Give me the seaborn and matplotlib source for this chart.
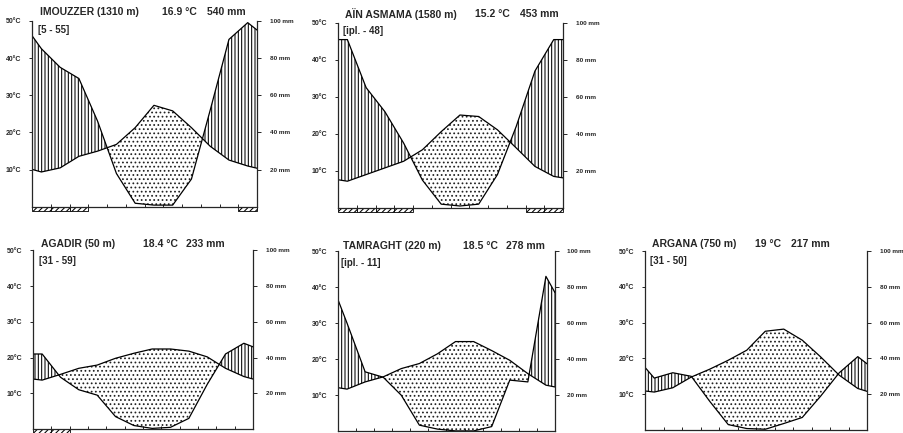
import numpy as np
import pandas as pd
import matplotlib.pyplot as plt
import seaborn as sns

sns.set_style("ticks")
plt.rcParams['font.family'] = ['Liberation Sans', 'DejaVu Sans']
plt.rcParams['hatch.linewidth'] = 0.75

stations = ["IMOUZZER (1310 m)", "AÏN ASMAMA (1580 m)", "AGADIR (50 m)",
            "TAMRAGHT (220 m)", "ARGANA (750 m)"]
periods = ["[5 - 55]", "[ipl. - 48]", "[31 - 59]", "[ipl. - 11]", "[31 - 50]"]
mean_temp = ["16.9 °C", "15.2 °C", "18.4 °C", "18.5 °C", "19 °C"]
total_rain = ["540 mm", "453 mm", "233 mm", "278 mm", "217 mm"]

# values Jan..Dec, plus the value read on the left and right frame (first / last)
temp_imouzzer = [10.1, 9.4, 10.5, 13.6, 15.0, 16.8, 21.3, 27.3, 25.8, 21.3, 16.3, 12.6, 11.0, 10.4]
rain_imouzzer = [92, 85, 75, 69, 46, 18, 2, 1, 1, 15, 52, 90, 99, 95]
temp_asmama = [7.6, 7.2, 9.0, 10.8, 12.6, 15.7, 20.6, 25.1, 24.7, 21.1, 16.2, 11.2, 8.5, 8.1]
rain_asmama = [91, 91, 65, 52, 35, 15, 2, 1, 2, 18, 44, 74, 91, 91]
temp_agadir = [14.0, 13.7, 15.3, 17.0, 17.9, 19.8, 21.2, 22.4, 22.4, 21.8, 20.2, 17.0, 14.7, 14.0]
rain_agadir = [42, 42, 29, 22, 19, 7, 2, 0.4, 1, 6, 25, 42, 48, 46]
temp_tamraght = [12.1, 11.7, 13.7, 15.1, 17.4, 18.8, 21.5, 24.9, 24.9, 22.4, 19.7, 16.0, 12.8, 12.3]
rain_tamraght = [73, 60, 33, 30, 20, 3.4, 1.2, 0.2, 0.2, 2.6, 28.4, 27.4, 86, 77]
temp_argana = [10.9, 10.6, 11.8, 14.8, 17.0, 19.5, 22.3, 27.6, 28.2, 25.1, 20.4, 15.3, 11.6, 10.8]
rain_argana = [35, 29, 32, 30, 16, 3, 0.8, 0.4, 3.6, 7, 19, 32, 41, 37]

# months with frost risk (bar under the axis)
frost_imouzzer = [1, 2, 3, 12]
frost_asmama = [1, 2, 3, 4, 11, 12]
frost_agadir = [1, 2]
frost_tamraght = []
frost_argana = []

temps = [temp_imouzzer, temp_asmama, temp_agadir, temp_tamraght, temp_argana]
rains = [rain_imouzzer, rain_asmama, rain_agadir, rain_tamraght, rain_argana]
frosts = [frost_imouzzer, frost_asmama, frost_agadir, frost_tamraght, frost_argana]

# axes boxes (left, bottom, width, height)
boxes = [[0.0354, 0.522, 0.249, 0.430],
         [0.3739, 0.520, 0.249, 0.427],
         [0.0365, 0.009, 0.2434, 0.413],
         [0.3739, 0.004, 0.2400, 0.416],
         [0.7135, 0.007, 0.2456, 0.413]]
# title x, title y, mean temp x (left), rain x (right end)
title_pos = [(0.036, 1.045, 0.578, 0.947),
             (0.031, 1.049, 0.609, 0.978),
             (0.036, 1.034, 0.50, 0.873),
             (0.023, 1.028, 0.576, 0.954),
             (0.032, 1.039, 0.495, 0.833)]

x = np.concatenate([[0], np.arange(12) + 0.5, [12]])

fig = plt.figure(figsize=(9.04, 4.33), dpi=100)

for i in range(5):
    ax = fig.add_axes(boxes[i])
    t = np.array(temps[i], dtype=float)
    p = np.array(rains[i], dtype=float) / 2.0
    df = pd.DataFrame({'x': x, 'T': t, 'P': p})

    ax.fill_between(x, t, p, where=p >= t, interpolate=True, facecolor='none',
                    edgecolor='black', hatch='|||||', linewidth=0)
    ax.fill_between(x, t, p, where=t >= p, interpolate=True, facecolor='none',
                    edgecolor='#222222', hatch='....', linewidth=0)
    sns.lineplot(data=df, x='x', y='T', ax=ax, color='black', lw=0.9)
    sns.lineplot(data=df, x='x', y='P', ax=ax, color='black', lw=0.9)

    if frosts[i]:
        fm = np.array(frosts[i]) - 0.5
        ax.bar(fm, -1.1, width=1.0, bottom=0, facecolor='white', edgecolor='black',
               hatch='//////', linewidth=0.6, clip_on=False)

    ax.set_xlim(0, 12)
    ax.set_ylim(0, 50)
    ax.set_xlabel(None)
    ax.set_ylabel(None)
    ax.set_xticks(np.arange(1, 12))
    ax.set_xticklabels([])
    ax.tick_params(axis='x', direction='in', length=2, width=0.7)
    ax.set_yticks([10, 20, 30, 40, 50])
    ax.set_yticklabels([f"{v}°C" for v in [10, 20, 30, 40, 50]], fontsize=5,
                       fontweight='bold')
    ax.tick_params(axis='y', direction='out', length=2, width=0.7, pad=6)
    for s in ['left', 'right', 'bottom']:
        ax.spines[s].set_linewidth(0.9)
    ax.spines['top'].set_visible(False)
    ax.spines['right'].set_visible(False)

    sec = ax.secondary_yaxis('right', functions=(lambda v: v * 2, lambda v: v / 2))
    sec.set_yticks([20, 40, 60, 80, 100])
    sec.set_yticklabels([f"{v} mm" for v in [20, 40, 60, 80, 100]], fontsize=4.6,
                        fontweight='bold')
    sec.tick_params(direction='out', length=3, width=0.7, pad=6)
    sec.spines['right'].set_linewidth(0.9)

    tx, ty, mx, rx = title_pos[i]
    ax.text(tx, ty, stations[i], transform=ax.transAxes, fontsize=7.5,
            fontweight='bold', va='center', ha='left')
    ax.text(mx, ty, mean_temp[i], transform=ax.transAxes, fontsize=7.5,
            fontweight='bold', va='center', ha='left')
    ax.text(rx, ty, total_rain[i], transform=ax.transAxes, fontsize=7.5,
            fontweight='bold', va='center', ha='right')
    ax.text(tx - 0.008, ty - 0.095, periods[i], transform=ax.transAxes, fontsize=7,
            fontweight='bold', va='center', ha='left')

plt.savefig('out.png', dpi=100)
